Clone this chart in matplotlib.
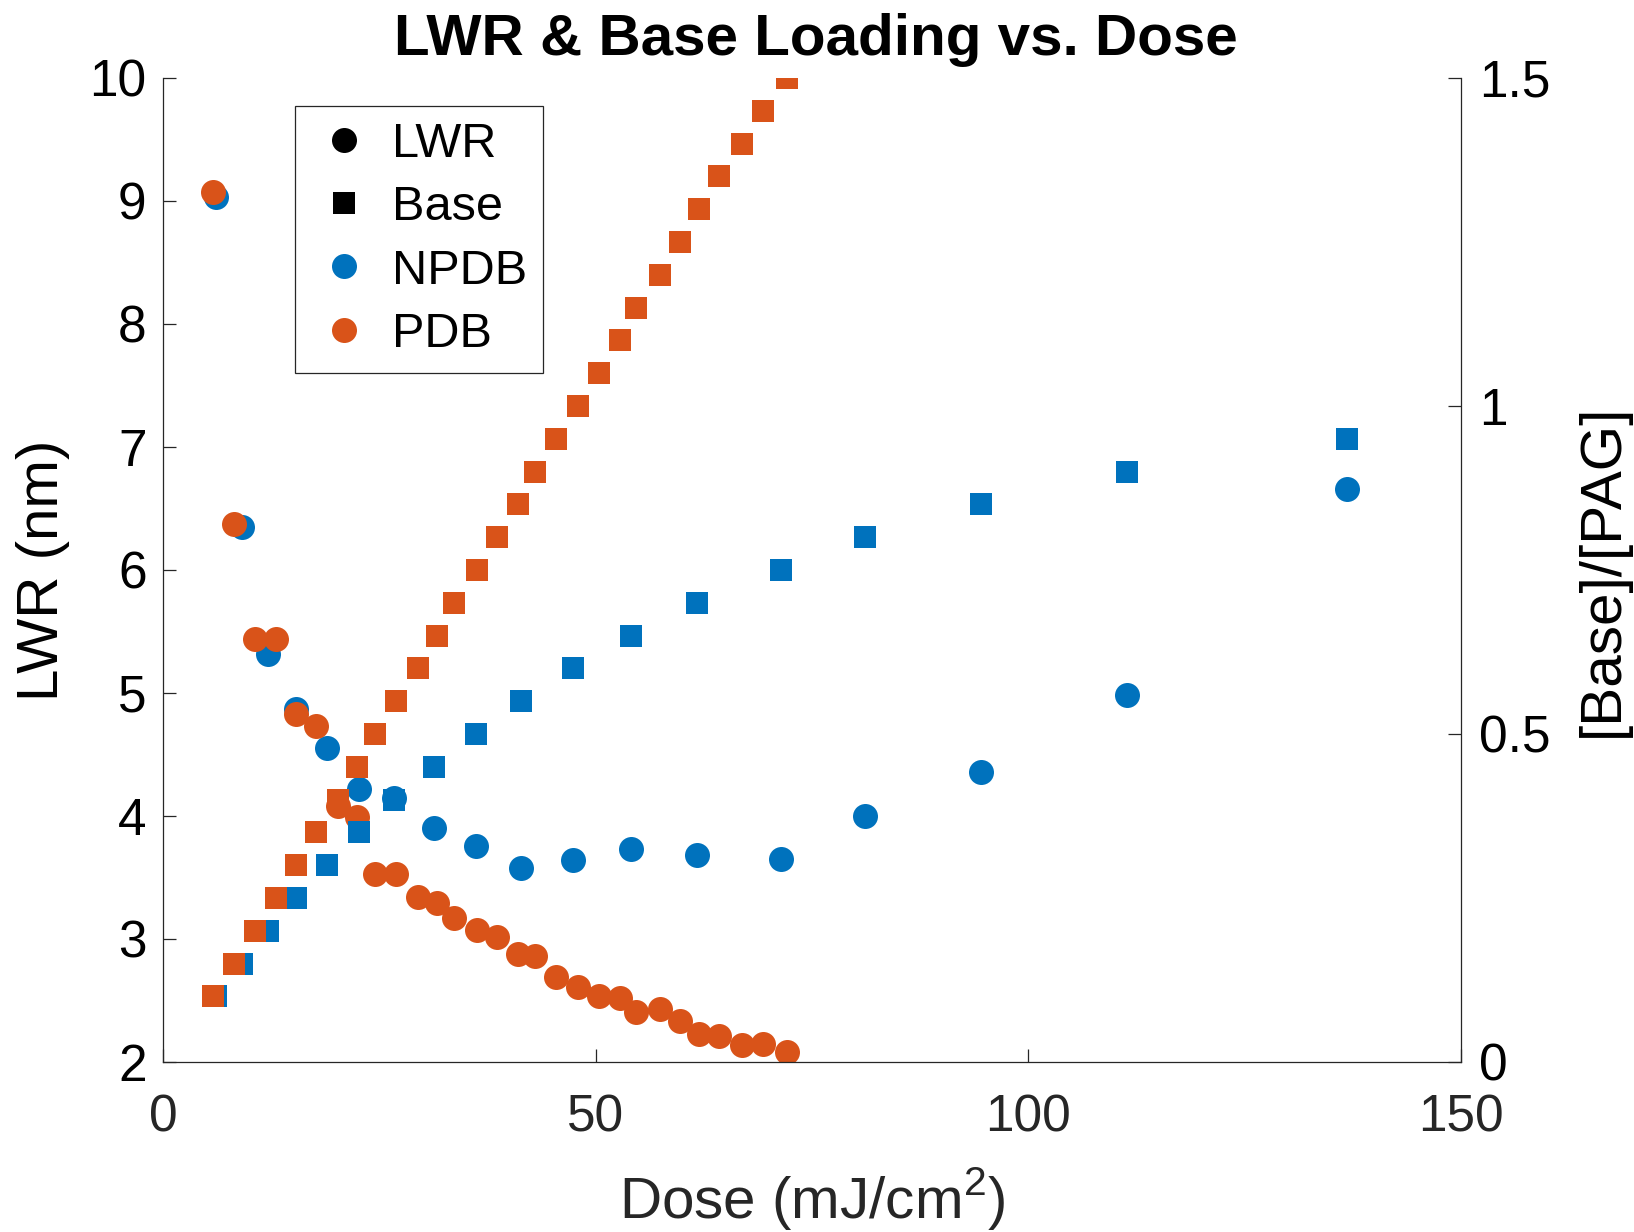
import numpy as np
import matplotlib
matplotlib.use("Agg")
import matplotlib.pyplot as plt
from matplotlib.lines import Line2D

plt.rcParams['font.family'] = ['Liberation Sans', 'DejaVu Sans']
plt.rcParams['mathtext.fontset'] = 'custom'
plt.rcParams['mathtext.rm'] = 'Liberation Sans'

# doses (mJ/cm^2), LWR (nm) and base loading ([Base]/[PAG])
dose_pdb = [5.7, 8.17, 10.6, 13.0, 15.3, 17.6, 20.15, 22.4, 24.46, 26.85, 29.43,
            31.66, 33.63, 36.28, 38.6, 41.0, 42.95, 45.38, 47.95, 50.31, 52.77,
            54.62, 57.4, 59.7, 61.97, 64.25, 66.84, 69.33, 72.04]
lwr_pdb = [9.07, 6.37, 5.44, 5.44, 4.83, 4.73, 4.08, 3.99, 3.53, 3.53, 3.34,
           3.29, 3.17, 3.07, 3.02, 2.88, 2.86, 2.69, 2.61, 2.54, 2.52,
           2.41, 2.43, 2.33, 2.225, 2.21, 2.14, 2.15, 2.08]
base_pdb = [0.10, 0.15, 0.20, 0.25, 0.30, 0.35, 0.40, 0.45, 0.50, 0.55, 0.60,
            0.65, 0.70, 0.75, 0.80, 0.85, 0.90, 0.95, 1.00, 1.05, 1.10,
            1.15, 1.20, 1.25, 1.30, 1.35, 1.40, 1.45, 1.50]

dose_npdb = [6.1, 9.13, 12.1, 15.3, 18.88, 22.65, 26.69, 31.28, 36.1, 41.37,
             47.34, 54.04, 61.7, 71.4, 81.07, 94.56, 111.4, 136.8]
lwr_npdb = [9.03, 6.35, 5.32, 4.87, 4.55, 4.22, 4.15, 3.90, 3.76, 3.58,
            3.64, 3.73, 3.68, 3.65, 4.00, 4.36, 4.98, 6.66]
base_npdb = [0.10, 0.15, 0.20, 0.25, 0.30, 0.35, 0.40, 0.45, 0.50, 0.55,
             0.60, 0.65, 0.70, 0.75, 0.80, 0.85, 0.90, 0.95]

blue = '#0072BD'
orange = '#D95319'
axcol = '#262626'

fig = plt.figure(figsize=(16.34, 12.32), dpi=100)
ax = fig.add_axes([0.0999, 0.138, 0.7943, 0.7987])
ax2 = ax.twinx()

ms_c = 18
ms_s = 15.8
ax.plot(dose_npdb, lwr_npdb, 'o', color=blue, ms=ms_c, mew=0)
ax.plot(dose_pdb, lwr_pdb, 'o', color=orange, ms=ms_c, mew=0)
ax2.plot(dose_npdb, base_npdb, 's', color=blue, ms=ms_s, mew=0)
ax2.plot(dose_pdb, base_pdb, 's', color=orange, ms=ms_s, mew=0)

ax.set_xlim(0, 150)
ax.set_ylim(2, 10)
ax2.set_ylim(0, 1.5)
ax.set_xticks([0, 50, 100, 150])
ax.set_yticks(range(2, 11))
ax2.set_yticks([0, 0.5, 1, 1.5])
ax2.set_yticklabels(['0', '0.5', '1', '1.5'])

for a in (ax, ax2):
    a.spines['top'].set_visible(False)
    for s in a.spines.values():
        s.set_color(axcol)
        s.set_linewidth(0.9)
ax.spines['right'].set_visible(False)
ax2.spines['left'].set_visible(False)
ax2.spines['bottom'].set_visible(False)

ax.tick_params(axis='y', direction='in', length=9.4, width=0.9, color=axcol,
               labelsize=37, pad=12, labelcolor='black')
ax.tick_params(axis='x', direction='in', length=9.4, width=0.9, color=axcol,
               labelsize=37, pad=23, labelcolor=axcol)
ax2.tick_params(axis='y', direction='in', length=9.4, width=0.9, color=axcol,
                labelsize=37, pad=13, labelcolor='black')

ax.set_ylabel('LWR (nm)', fontsize=42, va='center')
ax.yaxis.set_label_coords(-0.0927, 0.5)
ax2.set_ylabel('[Base]/[PAG]', fontsize=42, va='center', rotation=90)
ax2.yaxis.set_label_coords(1.109, 0.5)
ax.set_xlabel('Dose (mJ/cm$^2$)', fontsize=42, va='baseline', color=axcol)
ax.xaxis.set_label_coords(0.5, -0.1595)

fig.text(0.4994, 1 - 55 / 1232, 'LWR & Base Loading vs. Dose',
         ha='center', va='baseline', fontsize=42, fontweight='bold')

handles = [
    Line2D([], [], ls='none', marker='o', color='black', ms=ms_c, mew=0),
    Line2D([], [], ls='none', marker='s', color='black', ms=ms_s, mew=0),
    Line2D([], [], ls='none', marker='o', color=blue, ms=ms_c, mew=0),
    Line2D([], [], ls='none', marker='o', color=orange, ms=ms_c, mew=0),
]
leg = ax2.legend(handles, ['LWR', 'Base', 'NPDB', 'PDB'], loc='upper left',
                 bbox_to_anchor=(295 / 1634, 1 - 106 / 1232),
                 bbox_transform=fig.transFigure, borderaxespad=0,
                 fontsize=35, frameon=True, fancybox=False, framealpha=1,
                 edgecolor=axcol, handlelength=1.37, handletextpad=0.3,
                 labelspacing=0.38, borderpad=0.32)
leg.get_frame().set_linewidth(0.9)

fig.savefig('out.png', dpi=100)
